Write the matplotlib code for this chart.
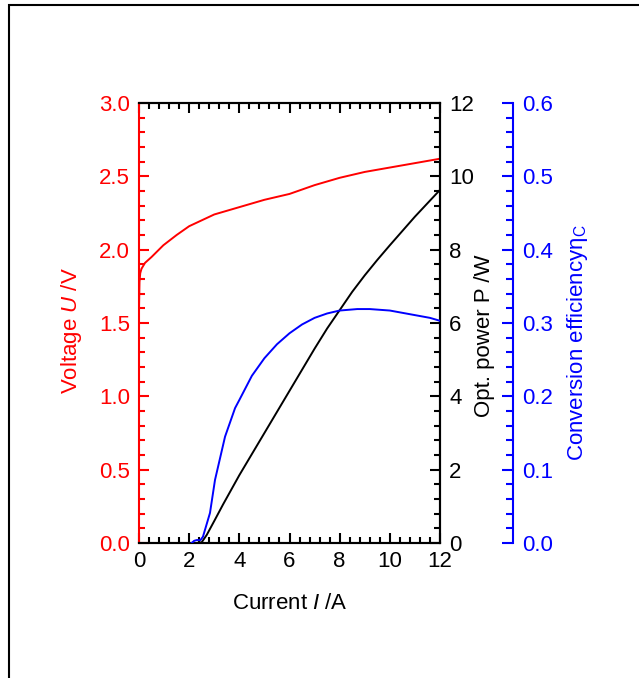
import matplotlib
import matplotlib.pyplot as plt
from matplotlib.ticker import MultipleLocator, FormatStrFormatter
from matplotlib.patches import Rectangle

matplotlib.rcParams.update({
    "font.family": ["Liberation Sans", "DejaVu Sans"],
    "font.size": 16,
    "mathtext.fontset": "custom",
    "mathtext.rm": "Liberation Sans",
    "mathtext.it": "Liberation Sans:italic",
})

# U-I characteristic
current_u = [0.0, 0.0, 0.02, 0.05, 0.1, 0.24, 0.5, 0.97, 1.5, 2.0, 2.5, 3.0,
             4.0, 5.0, 6.0, 7.0, 8.0, 9.0, 10.0, 11.0, 12.0]
voltage = [0.0, 1.60, 1.78, 1.84, 1.87, 1.91, 1.95, 2.03, 2.10, 2.16, 2.20,
           2.24, 2.29, 2.34, 2.38, 2.44, 2.49, 2.53, 2.56, 2.59, 2.62]

# optical output power
current_p = [2.3, 2.5, 2.7, 3.0, 3.35, 4.0, 5.0, 6.0, 7.0, 7.5, 8.0, 8.5,
             9.0, 9.5, 10.0, 11.0, 12.0]
power = [0.0, 0.02, 0.22, 0.6, 1.05, 1.85, 3.0, 4.15, 5.3, 5.85, 6.35, 6.85,
         7.3, 7.72, 8.12, 8.9, 9.63]

# conversion efficiency
current_eta = [2.1, 2.2, 2.3, 2.45, 2.55, 2.83, 3.03, 3.43, 3.83, 4.0, 4.5,
               5.0, 5.5, 6.0, 6.5, 7.0, 7.5, 8.0, 8.7, 9.2, 10.0, 10.8, 11.6,
               12.0]
efficiency = [0.0, 0.003, 0.004, 0.004, 0.0086, 0.041, 0.086, 0.145, 0.184,
              0.195, 0.228, 0.252, 0.271, 0.286, 0.298, 0.307, 0.313, 0.317,
              0.319, 0.319, 0.317, 0.312, 0.307, 0.303]

fig = plt.figure(figsize=(6.39, 6.78), dpi=100)
ax = fig.add_axes([139 / 639, 1 - 543 / 678, 301 / 639, 440 / 678])
ax_p = ax.twinx()
ax_eta = ax.twinx()

lw = 1.4
ax.plot(current_u, voltage, color="red", lw=lw)
ax_p.plot(current_p, power, color="black", lw=lw)
ax_eta.plot(current_eta, efficiency, color="blue", lw=lw)

ax.set_xlim(0, 12)
ax.set_ylim(0, 3.0)
ax_p.set_ylim(0, 12)
ax_eta.set_ylim(0, 0.6)

ax.xaxis.set_major_locator(MultipleLocator(2))
ax.xaxis.set_minor_locator(MultipleLocator(0.4))
ax.yaxis.set_major_locator(MultipleLocator(0.5))
ax.yaxis.set_minor_locator(MultipleLocator(0.1))
ax_p.yaxis.set_major_locator(MultipleLocator(2))
ax_p.yaxis.set_minor_locator(MultipleLocator(0.4))
ax_eta.yaxis.set_major_locator(MultipleLocator(0.1))
ax_eta.yaxis.set_minor_locator(MultipleLocator(0.02))

ax.yaxis.set_major_formatter(FormatStrFormatter("%.1f"))
ax_eta.yaxis.set_major_formatter(FormatStrFormatter("%.1f"))

spine_w = 1.5
for a in (ax, ax_p, ax_eta):
    for s in a.spines.values():
        s.set_linewidth(spine_w)

ax.spines["left"].set_color("red")
ax_p.spines["left"].set_visible(False)
ax_eta.spines["left"].set_visible(False)
ax_eta.spines["top"].set_visible(False)
ax_eta.spines["bottom"].set_visible(False)
# offset in points: 73 px at 100 dpi
ax_eta.spines["right"].set_position(("outward", 52.5))
ax_eta.spines["right"].set_color("blue")

ax.tick_params(axis="x", which="both", direction="in", top=True, width=spine_w,
               pad=6, colors="black")
ax.tick_params(axis="y", which="both", direction="in", colors="red",
               width=spine_w, pad=6.5)
ax_p.tick_params(axis="y", which="both", direction="in", colors="black",
                 width=spine_w, pad=6.5)
ax_eta.tick_params(axis="y", which="both", direction="in", colors="blue",
                   width=spine_w, pad=6.5)
for a in (ax, ax_p):
    a.tick_params(which="major", length=7)
    a.tick_params(which="minor", length=4)
ax_eta.tick_params(which="major", length=8)
ax_eta.tick_params(which="minor", length=5)

ax.set_xlabel("Current $I$ /A")
ax.set_ylabel("Voltage $U$ /V", color="red")
ax_p.set_ylabel("Opt. power P /W", color="black")
ax_eta.set_ylabel("Conversion efficiencyη$_{\\rm C}$", color="blue")
ax.xaxis.set_label_coords(0.5, -0.113)
ax.yaxis.set_label_coords(-0.183, 0.482)
ax_p.yaxis.set_label_coords(1.113, 0.47)
ax_eta.yaxis.set_label_coords(1.415, 0.455)

# frame around the figure, cut off at right and bottom
fig.patches.append(Rectangle((9 / 639, -0.05), 1.0, 1 - 5 / 678 + 0.05,
                             transform=fig.transFigure, fill=False,
                             edgecolor="black", lw=1.5))

fig.savefig("out.png", dpi=100)
